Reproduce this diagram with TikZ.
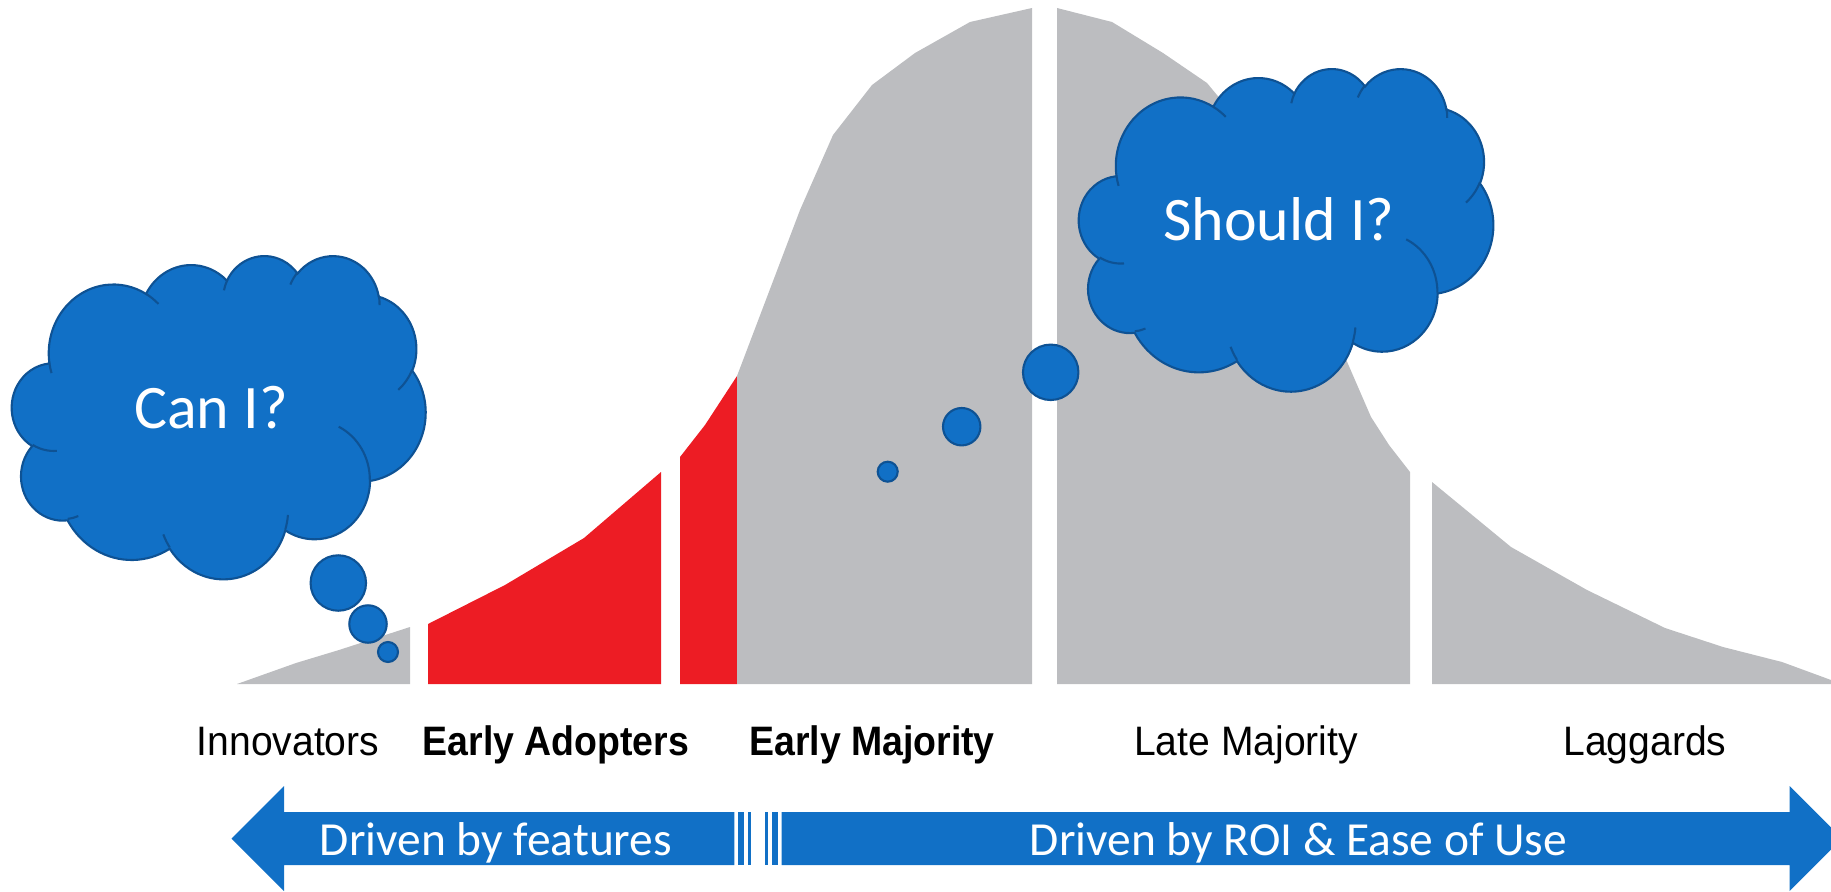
\documentclass[tikz,border=0pt]{standalone}
\usepackage{fontspec}
\usepackage{xcolor}
\usepackage{tikz}
\newfontfamily\stagefont{Liberation Sans}[FakeStretch=0.95]
\newfontfamily\stageboldfont{Liberation Sans}[FakeStretch=0.91]
\newfontfamily\calfont{Carlito}
\definecolor{cloudblue}{RGB}{17,112,198}
\definecolor{cloudedge}{RGB}{14,82,148}
\definecolor{bellgray}{RGB}{188,189,192}
\definecolor{adopterred}{RGB}{237,28,36}
\tikzset{
  stage/.style={font=\stagefont\fontsize{11.7}{14}\selectfont, anchor=base, inner sep=0pt},
  keystage/.style={font=\stageboldfont\bfseries\fontsize{11.7}{14}\selectfont, anchor=base, inner sep=0pt},
  thought/.style={font=\calfont\fontsize{17.6}{21}\selectfont, text=white, anchor=base, inner sep=0pt},
  driver/.style={font=\calfont\fontsize{13.5}{16}\selectfont, text=white, anchor=base, inner sep=0pt},
  bubble/.style={circle, fill=cloudblue, draw=cloudedge, line width=0.6pt, inner sep=0pt, minimum size=#1},
  bell/.style={fill=bellgray},
  adopters/.style={fill=adopterred},
  band/.style={fill=cloudblue},
  cloudbody/.style={fill=cloudblue, draw=cloudedge, line width=0.6pt},
  cloudcrease/.style={draw=cloudedge, line width=0.6pt},
  % cloud in a 432 x 432 box, y pointing down
  pics/thoughtcloud/.style={code={
    \path[cloudbody] (39,143.7)
      \foreach \w/\h/\s/\d [evaluate=\s as \ts using {atan2(\w*sin(\s),\h*cos(\s))},
          evaluate=\d as \dt using {mod(atan2(\w*sin(\s+\d),\h*cos(\s+\d))-\ts+720,360)}]
        in {67.53/91.90/-190.4875/123.7805, 53.33/72.67/-144.1024/89.9452,
            43.65/59.45/-145.8079/99.7230, 48.57/65.95/-130.9861/117.2417,
            53.33/72.73/-78.7089/109.0269, 67.75/92.20/-46.2673/130.2690,
            57.85/78.67/0.6250/114.0333, 67.52/92.15/22.4516/115.1726,
            77.20/105.43/66.2426/75.7110, 43.60/59.18/-274.9421/146.7356,
            43.45/59.45/-246.8285/152.5189}
        {arc[x radius=\w, y radius=\h, start angle=\ts, delta angle=\dt]} -- cycle;
    \foreach \px/\py/\w/\h/\s/\d [evaluate=\s as \ts using {atan2(\w*sin(\s),\h*cos(\s))},
        evaluate=\d as \dt using {mod(atan2(\w*sin(\s+\d),\h*cos(\s+\d))-\ts+720,360)}]
      in {46.93/261.77/43.45/59.45/86.7420/26.4295, 69.28/348.99/43.60/59.18/73.6105/11.4475,
          164.78/390.90/67.52/92.15/137.6242/14.0811, 288.27/347.51/67.52/92.15/6.4533/15.9984,
          341.29/229.54/57.85/78.67/-70.2924/70.9174, 417.98/153.54/53.33/72.73/30.3180/27.7515,
          383.24/54.26/48.57/65.95/-13.7443/14.8589, 290.78/39.52/48.57/65.95/-149.1815/18.1954,
          221.41/47.20/43.65/59.45/-163.4943/17.6864, 140.00/51.92/67.53/91.90/-66.7070/12.3194,
          41.27/157.89/67.53/91.90/157.6544/11.8582}
      \draw[cloudcrease] (\px,\py) arc[x radius=\w, y radius=\h, start angle=\ts, delta angle=\dt];
  }}
}
\begin{document}
\begin{tikzpicture}[x=0.01cm, y=-0.01cm]
  \useasboundingbox (0,0) rectangle (1831,891);
  % adoption curve
  \fill[bell] (237,684) -- (296,663) -- (339,650) -- (410,627) -- (410,684) -- cycle;
  \fill[adopters] (428,684) -- (428,624) -- (505,585) -- (584,538) -- (661,472) -- (661,684) -- cycle;
  \fill[adopters] (680,684) -- (680,457) -- (705,425) -- (737,376) -- (737,684) -- cycle;
  \fill[bell] (737,684) -- (737,376) -- (800,210) -- (833,135) -- (872,85) -- (915,53) -- (970,22) -- (1032,8) -- (1032,684) -- cycle;
  \fill[bell] (1057,684) -- (1057,8) -- (1112,22) -- (1163,53) -- (1207,83) -- (1250,135) -- (1285,215) -- (1320,295) -- (1345,357) -- (1371,417) -- (1389,445) -- (1410,472) -- (1410,684) -- cycle;
  \fill[bell] (1432,684) -- (1432,482) -- (1511,547) -- (1587,590) -- (1665,628) -- (1723,647) -- (1782,662) -- (1831,680) -- (1831,684) -- cycle;

  \node[stage] (innovators) at (288,755) {Innovators};
  \node[keystage] (earlyadopters) at (556,755) {Early Adopters};
  \node[keystage] (earlymajority) at (872,755) {Early Majority};
  \node[stage] (latemajority) at (1246,755) {Late Majority};
  \node[stage] (laggards) at (1645,755) {Laggards};

  % striped arrows
  \fill[band] (231.5,838.5) -- (284,786) -- (284,812) -- (734.4,812) -- (734.4,865) -- (284,865) -- (284,891) -- cycle;
  \fill[band] (737.8,812) rectangle (744.4,865);
  \fill[band] (747.7,812) rectangle (751,865);
  \fill[band] (765,812) rectangle (768.3,865);
  \fill[band] (771.6,812) rectangle (778.3,865);
  \fill[band] (781.6,812) -- (1789.5,812) -- (1789.5,786) -- (1842,838.5) -- (1789.5,891) -- (1789.5,865) -- (781.6,865) -- cycle;
  \node[driver] (features) at (496,855) {Driven by features};
  \node[driver] (roi) at (1298.5,855) {Driven by ROI \& Ease of Use};

  % thought clouds
  \begin{scope}[shift={(12,255)}, x=0.00956cm, y=-0.007477cm]
    \pic {thoughtcloud};
  \end{scope}
  \begin{scope}[shift={(1079,68)}, x=0.009583cm, y=-0.007454cm]
    \pic {thoughtcloud};
  \end{scope}
  \node[thought] (canI) at (211,428) {Can I?};
  \node[thought] (shouldI) at (1279,240) {Should I?};

  \node[bubble=5.54mm] (canIbig) at (338.3,583) {};
  \node[bubble=3.74mm] (canImid) at (368,624) {};
  \node[bubble=2mm] (canIsmall) at (388,652) {};
  \node[bubble=5.54mm] (shouldIbig) at (1050.7,372.3) {};
  \node[bubble=3.74mm] (shouldImid) at (961.7,426.7) {};
  \node[bubble=2mm] (shouldIsmall) at (887.7,471.7) {};
\end{tikzpicture}
\end{document}
